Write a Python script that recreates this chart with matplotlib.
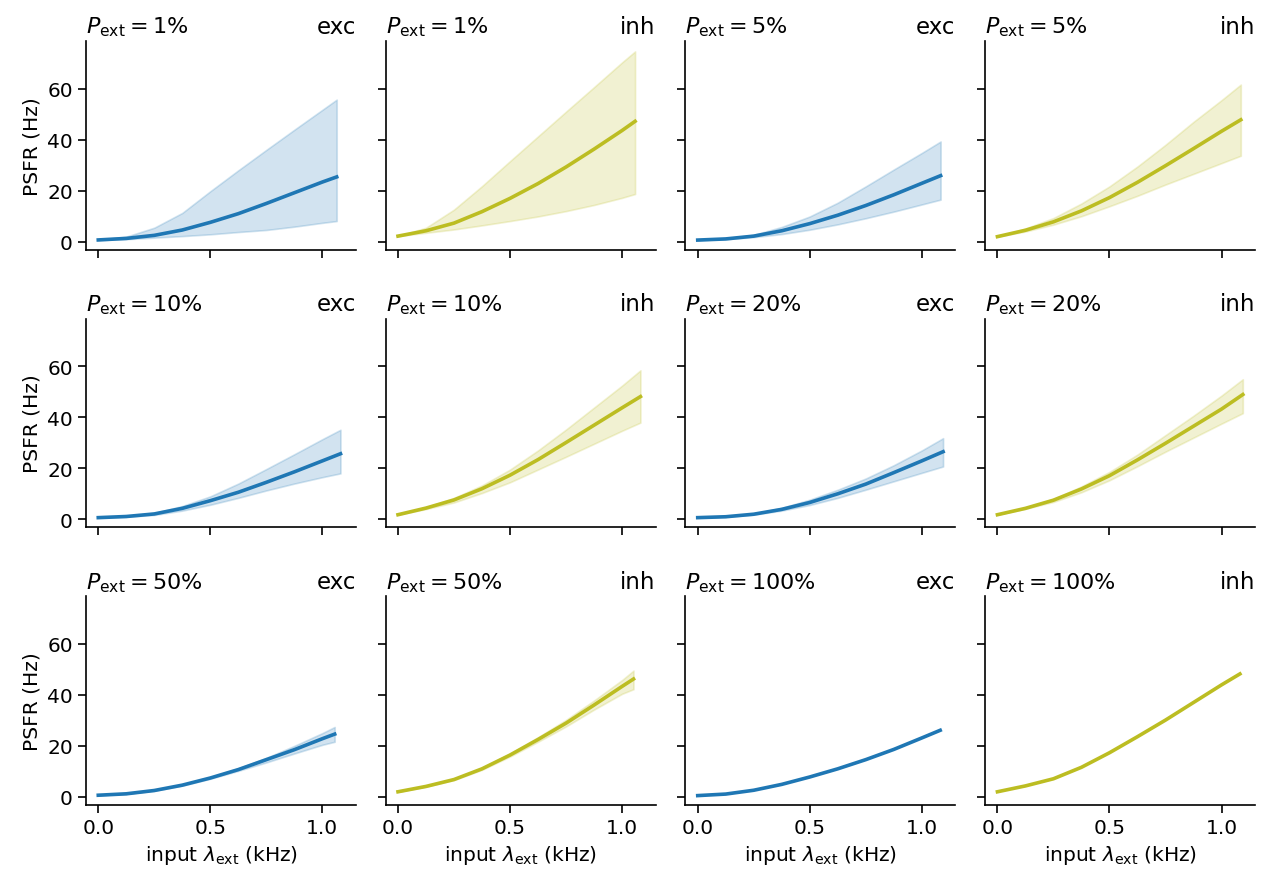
import matplotlib
matplotlib.use("Agg")
import matplotlib.pyplot as plt
from matplotlib.ticker import FormatStrFormatter

# input rate grid (kHz), the last point differs per panel
lam = [0, 0.125, 0.25, 0.375, 0.5, 0.625, 0.75, 0.875, 1.0]
p_ext = [1, 5, 10, 20, 50, 100]

lam_end_exc = {1: 1.064, 5: 1.084, 10: 1.081, 20: 1.095, 50: 1.055, 100: 1.082}
lam_end_inh = {1: 1.058, 5: 1.086, 10: 1.082, 20: 1.095, 50: 1.051, 100: 1.082}

# PSFR (Hz): mean and band edges
exc_mean = {
    1: [0.7, 1.3, 2.5, 4.6, 7.6, 11.0, 15.0, 19.2, 23.4, 25.4],
    5: [0.65, 1.1, 2.2, 4.3, 7.1, 10.4, 14.2, 18.4, 22.9, 25.9],
    10: [0.65, 1.1, 2.1, 4.3, 7.3, 10.6, 14.5, 18.6, 22.9, 25.7],
    20: [0.65, 1.0, 2.0, 3.9, 6.6, 10.0, 13.8, 18.3, 22.9, 26.5],
    50: [0.65, 1.2, 2.5, 4.6, 7.4, 10.7, 14.6, 18.5, 22.8, 24.6],
    100: [0.5, 1.1, 2.6, 4.9, 7.8, 11.0, 14.6, 18.6, 23.1, 26.1],
}
exc_hi = {
    1: [0.8, 2.0, 5.5, 11.3, 19.8, 28.0, 36.0, 43.9, 51.7, 55.7],
    5: [0.65, 1.3, 2.7, 5.8, 9.9, 15.3, 21.7, 28.3, 34.8, 39.3],
    10: [0.65, 1.3, 2.5, 5.2, 9.0, 14.0, 19.7, 25.5, 31.4, 35.1],
    20: [0.65, 1.1, 2.2, 4.5, 7.7, 11.6, 16.0, 21.2, 27.0, 31.8],
    50: [0.65, 1.2, 2.6, 4.8, 7.7, 11.2, 15.3, 20.0, 25.0, 27.4],
    100: None,
}
exc_lo = {
    1: [0.7, 1.0, 1.6, 2.2, 2.9, 3.8, 4.6, 5.9, 7.4, 8.1],
    5: [0.65, 1.0, 1.8, 3.0, 4.7, 6.8, 9.2, 11.8, 14.6, 16.5],
    10: [0.65, 1.0, 1.7, 3.4, 5.7, 8.4, 11.3, 14.0, 16.5, 18.0],
    20: [0.65, 1.0, 1.8, 3.4, 5.6, 8.4, 11.6, 14.9, 18.2, 20.7],
    50: [0.65, 1.2, 2.4, 4.4, 7.1, 10.2, 13.5, 17.0, 20.4, 21.6],
    100: None,
}
inh_mean = {
    1: [2.2, 4.3, 7.3, 11.8, 17.0, 22.8, 29.3, 36.3, 43.6, 47.2],
    5: [2.0, 4.5, 7.8, 12.1, 17.3, 23.3, 29.8, 36.5, 43.3, 47.8],
    10: [1.8, 4.4, 7.6, 12.0, 17.3, 23.4, 30.1, 36.9, 43.7, 48.1],
    20: [1.8, 4.3, 7.5, 11.9, 17.1, 23.3, 29.8, 36.5, 43.2, 48.9],
    50: [2.0, 4.1, 6.8, 11.0, 16.4, 22.5, 28.9, 36.0, 43.3, 46.2],
    100: [2.0, 4.3, 7.1, 11.6, 17.3, 23.6, 30.1, 37.0, 43.9, 48.2],
}
inh_hi = {
    1: [2.2, 5.5, 12.6, 21.8, 31.6, 41.3, 51.0, 60.6, 70.3, 74.6],
    5: [2.0, 5.2, 9.3, 15.0, 21.7, 29.5, 38.0, 47.0, 55.5, 61.6],
    10: [1.8, 4.7, 8.4, 13.3, 19.5, 27.0, 35.2, 43.8, 52.4, 58.4],
    20: [1.8, 4.5, 8.0, 12.9, 18.6, 25.4, 33.0, 40.6, 48.5, 54.9],
    50: [2.0, 4.2, 7.0, 11.4, 17.0, 23.4, 30.2, 37.8, 45.8, 49.5],
    100: None,
}
inh_lo = {
    1: [2.2, 3.5, 4.8, 6.4, 8.1, 9.9, 12.0, 14.4, 17.2, 18.7],
    5: [2.0, 4.0, 6.7, 10.0, 13.9, 18.0, 22.4, 26.6, 30.8, 33.7],
    10: [1.8, 4.0, 6.6, 10.3, 14.5, 19.5, 24.5, 29.6, 34.7, 37.9],
    20: [1.8, 4.1, 6.8, 10.6, 15.3, 20.8, 26.5, 32.0, 37.5, 41.6],
    50: [2.0, 4.0, 6.6, 10.6, 15.8, 21.6, 27.6, 34.2, 40.4, 42.2],
    100: None,
}

colors = {"exc": "#1f77b4", "inh": "#bcbd22"}

plt.rcParams.update({
    "font.size": 14.5,
    "axes.spines.top": False,
    "axes.spines.right": False,
    "xtick.major.size": 6,
    "ytick.major.size": 6,
    "xtick.major.width": 1.2,
    "ytick.major.width": 1.2,
    "axes.linewidth": 1.2,
})

fig, axes = plt.subplots(3, 4, figsize=(12.64, 8.79), dpi=100, sharex=True, sharey=True)
fig.subplots_adjust(left=0.068, right=0.993, top=0.952, bottom=0.083, wspace=0.11, hspace=0.33)

panels = []
for p in p_ext:
    panels.append((p, "exc"))
    panels.append((p, "inh"))

for ax, (p, pop) in zip(axes.flat, panels):
    if pop == "exc":
        x = lam + [lam_end_exc[p]]
        m, lo, hi = exc_mean[p], exc_lo[p], exc_hi[p]
    else:
        x = lam + [lam_end_inh[p]]
        m, lo, hi = inh_mean[p], inh_lo[p], inh_hi[p]
    c = colors[pop]
    if lo is not None:
        ax.fill_between(x, lo, hi, color=c, alpha=0.2, lw=1.2)
    ax.plot(x, m, color=c, lw=2.6, solid_joinstyle="round")
    ax.set_title(r"$P_\mathrm{ext} = %d\%%$" % p, loc="left", fontsize=16)
    ax.set_title(pop, loc="right", fontsize=16.5)

axes[0, 0].set_ylim(-3.2, 78.6)
axes[0, 0].set_yticks([0, 20, 40, 60])
axes[0, 0].set_xticks([0.0, 0.5, 1.0])
axes[0, 0].set_xlim(-0.055, 1.15)
for ax in axes[:, 0]:
    ax.set_ylabel("PSFR (Hz)")
for ax in axes[-1, :]:
    ax.set_xlabel(r"input $\lambda_\mathrm{ext}$ (kHz)")
    ax.xaxis.set_major_formatter(FormatStrFormatter("%.1f"))

fig.savefig("out.png", dpi=100)
